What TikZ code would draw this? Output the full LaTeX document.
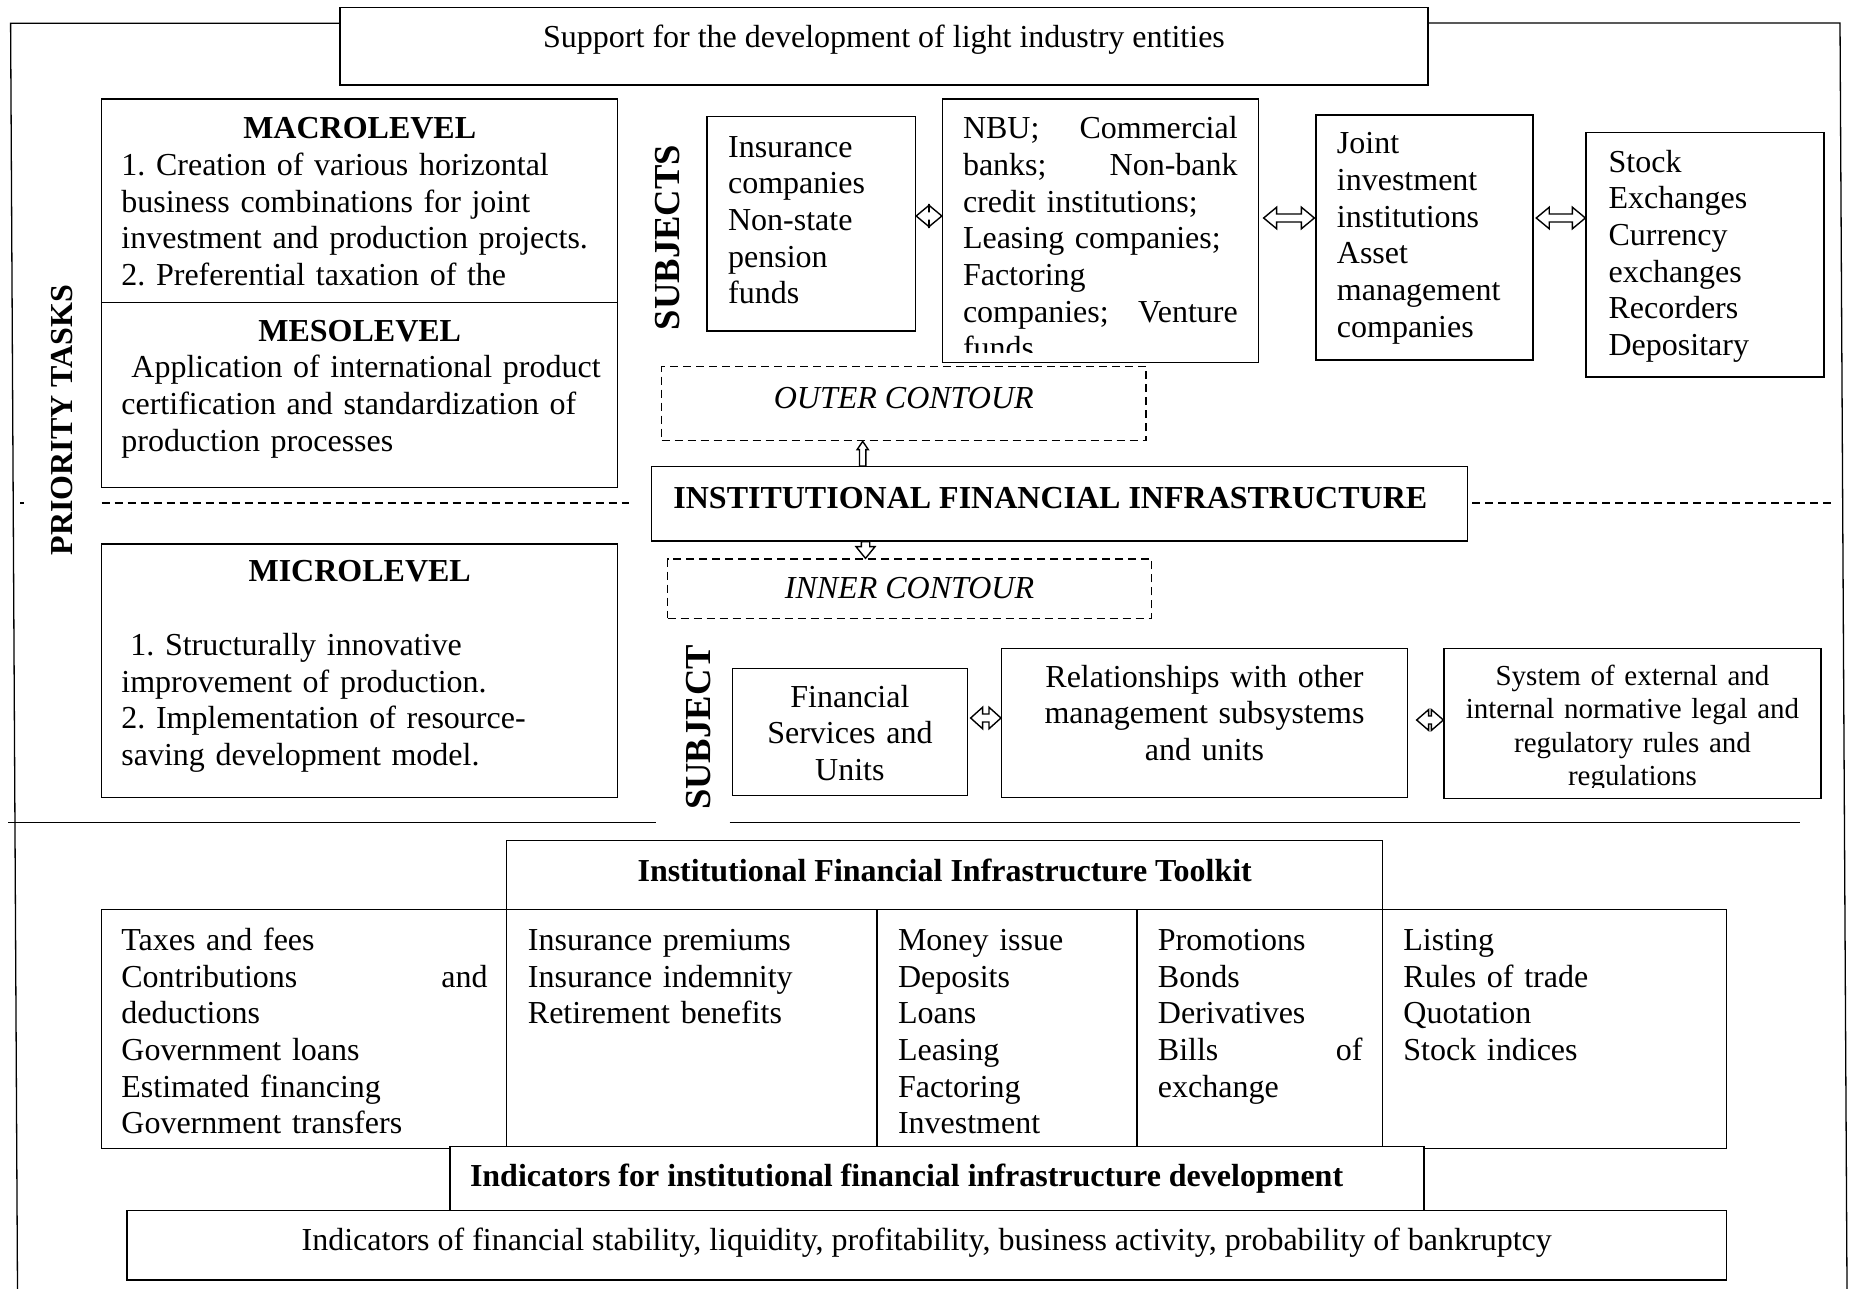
\documentclass[tikz,border=0pt]{standalone}
\usepackage{fontspec}
\setmainfont{Liberation Serif}
\usetikzlibrary{calc,fit}
\frenchspacing
\newcommand\fsz{\fontsize{16}{18.35}\selectfont}
\newcommand\fss{\fontsize{14.5}{16.67}\selectfont}
\newcommand\fsl{\fontsize{18.3}{21}\selectfont}
% left-right block arrow: #1 left tip, #2 right tip, #3 head half-height, #4 shaft half-height, #5 head length
\newcommand\lrarr[5]{\draw[blk] let \p1=#1, \p2=#2 in (\x1,\y1) -- (\x1+#5,\y1+#3) -- (\x1+#5,\y1+#4) -- (\x2-#5,\y1+#4) -- (\x2-#5,\y1+#3) -- (\x2,\y1) -- (\x2-#5,\y1-#3) -- (\x2-#5,\y1-#4) -- (\x1+#5,\y1-#4) -- (\x1+#5,\y1-#3) -- cycle;}
% vertical block arrows: #1 tail, #2 tip, #3 head half-width, #4 shaft half-width, #5 head length
\newcommand\uparr[5]{\draw[blk] let \p1=#1, \p2=#2 in (\x2,\y2) -- (\x2+#3,\y2-#5) -- (\x2+#4,\y2-#5) -- (\x2+#4,\y1) -- (\x2-#4,\y1) -- (\x2-#4,\y2-#5) -- (\x2-#3,\y2-#5) -- cycle;}
\newcommand\downarr[5]{\draw[blk] let \p1=#1, \p2=#2 in (\x2,\y2) -- (\x2+#3,\y2+#5) -- (\x2+#4,\y2+#5) -- (\x2+#4,\y1) -- (\x2-#4,\y1) -- (\x2-#4,\y2+#5) -- (\x2-#3,\y2+#5) -- cycle;}
\begin{document}
\begin{tikzpicture}[x=0.5pt,y=-0.5pt,
  every node/.style={inner sep=0pt,font=\fsz},
  box/.style={draw,line width=0.65pt,fill=white},
  dbox/.style={draw,line width=0.65pt,dash pattern=on 4pt off 2.5pt},
  ln/.style={line width=0.65pt},
  dln/.style={line width=0.65pt,dash pattern=on 4pt off 2.5pt},
  blk/.style={draw,line width=0.7pt,fill=white,line join=miter},
  tl/.style={anchor=north west,align=left},
  tc/.style={anchor=north,align=center},
  bl/.style={anchor=base},
  blw/.style={anchor=base west},
  vlab/.style={rotate=90,font=\bfseries\fsl}]
\useasboundingbox (0,0) rectangle (1852,1289);

% ---------- boxes ----------
\node[box,fit={(340,7.3)(1428,85)}] (top) {};
\node[box,fit={(101.6,99)(617.8,302.3)}] (macro) {};
\node[box,fit={(101.6,302.3)(617.8,487.3)}] (meso) {};
\node[box,fit={(101.6,544)(617.8,797.7)}] (micro) {};
\node[box,fit={(707,116.7)(915.5,331)}] (ins) {};
\node[box,fit={(942.5,99)(1258.5,362.7)}] (nbu) {};
\node[box,fit={(1316,115)(1533,360)}] (jii) {};
\node[box,fit={(1586,132.7)(1824,377)}] (stk) {};
\node[dbox,fit={(661.5,366.7)(1146,440.7)}] (oc) {};
\node[box,fit={(651.5,466.7)(1467.6,541)}] (ifi) {};
\node[dbox,fit={(667.5,559)(1151.6,618.3)}] (ic) {};
\node[box,fit={(732.4,668.3)(967.3,795.7)}] (fs) {};
\node[box,fit={(1001.6,648.3)(1407.4,797.7)}] (rel) {};
\node[box,fit={(1444,648.3)(1820.9,798.3)}] (sys) {};
\node[box,fit={(506.8,840.7)(1382.6,909.3)}] (tkh) {};
\node[box,fit={(101.6,909.3)(506.8,1148.3)}] (c1) {};
\node[box,fit={(506.8,909.3)(877,1148.3)}] (c2) {};
\node[box,fit={(877,909.3)(1137,1148.3)}] (c3) {};
\node[box,fit={(1137,909.3)(1382.6,1148.3)}] (c4) {};
\node[box,fit={(1382.6,909.3)(1726.4,1148.3)}] (c5) {};
\node[box,fit={(450,1146.7)(1424,1210.7)}] (ind) {};
\node[box,fit={(127,1210.7)(1726.4,1280)}] (bot) {};

% ---------- frame and separators ----------
\draw[ln] (17.5,1289) -- (10.6,23.3) -- (top.west |- 0,23.3);
\draw[ln] (top.east |- 0,23) -- (1840,23) -- (1847,1289);
\draw[dln] (20,503) -- (24,503);
\draw[dln] (101.6,503) -- (629,503);
\draw[dln] (1472,503) -- (1833,503);
\draw[ln] (8,822.3) -- (655.6,822.3);
\draw[ln] (729.5,822.3) -- (1800,822.3);

% ---------- texts ----------
\node[bl] (topT) at (884,48) {Support for the development of light industry entities};

\node[bl] (macroH) at (359.7,138.3) {\bfseries MACROLEVEL};
\node[tl,text width=245pt] (macroT) at (121,149.3) {\strut 1. Creation of various horizontal\\business combinations for joint\\investment and production projects.\\2. Preferential taxation of the};

\node[bl] (mesoH) at (359.7,341.5) {\bfseries MESOLEVEL};
\node[tl,text width=245pt] (mesoT) at (121,351.8) {\strut\hspace*{5pt}Application of international product\\certification and standardization of\\production processes};

\node[bl] (microH) at (359.7,581.7) {\bfseries MICROLEVEL};
\node[tl,text width=245pt] (microT) at (121,629.3) {\strut\hspace*{4.5pt}1. Structurally innovative\\improvement of production.\\2. Implementation of resource-\\saving development model.};

\node[tl,text width=90pt] (insT) at (727.7,131) {\strut Insurance\\companies\\Non-state\\pension\\funds};
\begin{scope}
\clip (942.5,99) rectangle (1258.5,352);
\node[tl,text width=137.35pt] (nbuT) at (962.6,112.6) {\strut NBU;\hfill Commercial\\banks;\hfill Non-bank\\credit institutions;\\Leasing companies;\\Factoring\\companies;\hfill Venture\\funds};
\end{scope}
\node[tl,text width=95pt] (jiiT) at (1336.5,127.6) {\strut Joint\\investment\\institutions\\Asset\\management\\companies};
\node[tl,text width=100pt] (stkT) at (1608.2,146) {\strut Stock\\Exchanges\\Currency\\exchanges\\Recorders\\Depositary};

\node[bl] (ocT) at (903.75,408) {\itshape OUTER CONTOUR};
\node[blw] (ifiT) at (673,508.3) {\bfseries INSTITUTIONAL FINANCIAL INFRASTRUCTURE};
\node[bl] (icT) at (909.5,598.3) {\itshape INNER CONTOUR};

\node[tc,text width=110pt] (fsT) at (849.9,681) {\strut Financial\\Services and\\Units};
\node[tc,text width=195pt] (relT) at (1204.5,661) {\strut Relationships with other\\management subsystems\\and units};
\begin{scope}
\clip (1444,648.3) rectangle (1820.9,787);
\node[tc,text width=180pt,font=\fss] (sysT) at (1632.5,661.7) {\strut System of external and\\internal normative legal and\\regulatory rules and\\regulations};
\end{scope}

\node[bl] (tkhT) at (944.7,881.7) {\bfseries Institutional Financial Infrastructure Toolkit};
\node[tl,text width=183.15pt] (c1T) at (121,924.3) {\strut Taxes and fees\\Contributions\hfill and\\deductions\\Government loans\\Estimated financing\\Government transfers};
\node[tl,text width=170pt] (c2T) at (527.5,924.3) {\strut Insurance premiums\\Insurance indemnity\\Retirement benefits};
\node[tl,text width=115pt] (c3T) at (897.6,924.3) {\strut Money issue\\Deposits\\Loans\\Leasing\\Factoring\\Investment};
\node[tl,text width=102.25pt] (c4T) at (1157.5,924.3) {\strut Promotions\\Bonds\\Derivatives\\Bills\hfill of\\exchange};
\node[tl,text width=150pt] (c5T) at (1403,924.3) {\strut Listing\\Rules of trade\\Quotation\\Stock indices};
\node[blw] (indT) at (469.6,1186.7) {\bfseries Indicators for institutional financial infrastructure development};
\node[bl] (botT) at (926.7,1250) {Indicators of financial stability, liquidity, profitability, business activity, probability of bankruptcy};

\node[vlab] (subjs) at (667.5,237.5) {SUBJECTS};
\node[vlab] (subj) at (698.5,727.5) {SUBJECT};
\node[rotate=90,font=\bfseries\fsz] (prio) at (61.7,420) {PRIORITY TASKS};

% ---------- arrows ----------
\lrarr{(ins.east |- 0,216)}{(nbu.west |- 0,216)}{5.4pt}{2.2pt}{6.5pt}
\lrarr{($(nbu.east |- 0,218)+(4.5,0)$)}{($(jii.west |- 0,218)+(-1,0)$)}{5.4pt}{2pt}{6.5pt}
\lrarr{($(jii.east |- 0,218)+(2.6,0)$)}{(stk.west |- 0,218)}{5.4pt}{2pt}{6.5pt}
\lrarr{($(fs.east |- 0,718)+(2.7,0)$)}{(rel.west |- 0,718)}{5.4pt}{2pt}{6pt}
\lrarr{($(rel.east |- 0,720)+(8.6,0)$)}{(sys.west |- 0,720)}{5.2pt}{2pt}{6pt}
\uparr{(862.7,0 |- ifi.north)}{(862.7,0 |- oc.south)}{2.8pt}{1.6pt}{4.15pt}
\downarr{(865.5,0 |- ifi.south)}{(865.5,0 |- ic.north)}{4.75pt}{2.1pt}{5.85pt}
\end{tikzpicture}
\end{document}
